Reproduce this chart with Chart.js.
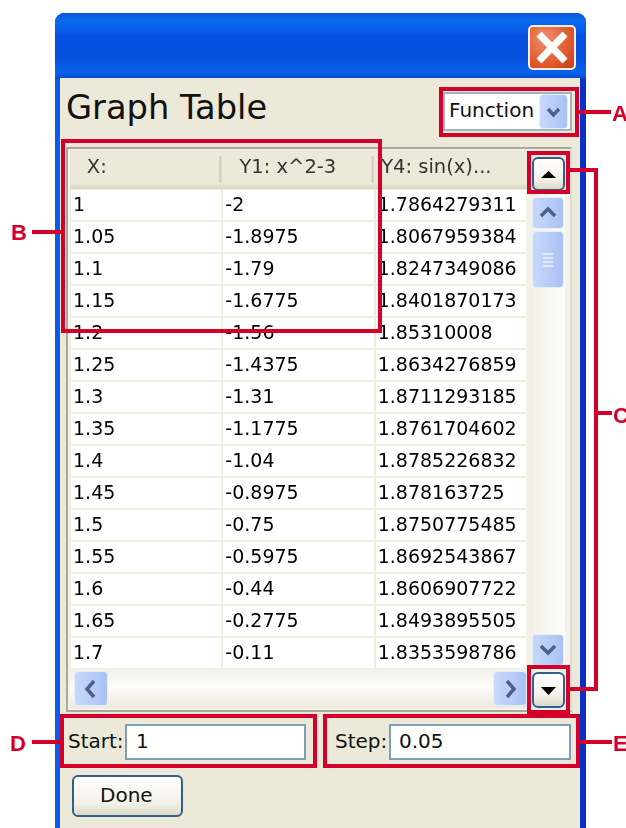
<!DOCTYPE html>
<html>
<head>
<meta charset="utf-8">
<title>Graph Table</title>
<script src="https://cdn.jsdelivr.net/npm/chart.js@4"></script>
<style>
html,body{margin:0;padding:0;background:#fff;width:626px;height:828px;overflow:hidden;font-family:"DejaVu Sans",sans-serif;color:#111}
#page{position:absolute;left:0;top:0;width:626px;height:828px;filter:blur(.6px)}
#page div,#page svg{position:absolute;box-sizing:border-box}
.txt{white-space:nowrap;line-height:1}
.red{background:#d4002a}
.box{border:4px solid #d4002a}
.letter{font:bold 22px "Liberation Sans",sans-serif;color:#d4002a}
.sb{border-radius:4px;background:linear-gradient(90deg,#c9d8fb,#b6cbf8 60%,#a9c0f2);border:1px solid #e6eefc}
.btn{border:2px solid #2f5f8f;border-radius:6px;background:linear-gradient(#fff,#f3f1e6 70%,#dcd8c8)}
.input{background:#fff;border:2px solid #7f9db9}
canvas{position:absolute;left:70px;top:150px}
</style>
</head>
<body>
<div id="page">
  <!-- window frame -->
  <div style="left:55px;top:13px;width:531px;height:815px;border-radius:9px 9px 0 0;background:linear-gradient(90deg,#0a5cf0 0,#0a5cf0 50%,#0831c4 100%)"></div>
  <div style="left:55px;top:13px;width:531px;height:66px;border-radius:9px 9px 0 0;background:linear-gradient(#0a58dc 0,#0a6af0 12%,#0550e0 35%,#0450dc 70%,#0a62ea 90%,#0548c8 100%)"></div>
  <div style="left:60px;top:78px;width:520px;height:750px;background:#ece9d8"></div>
  <!-- close button -->
  <div style="left:528px;top:25px;width:48px;height:45px;border:2px solid #f4eee8;border-radius:5px;background:radial-gradient(circle at 35% 30%,#ee9070,#e05a2c 60%,#c43c14)"></div>
  <svg style="left:528px;top:25px" width="48" height="45"><path d="M11 9L37 36M37 9L11 36" stroke="#fff" stroke-width="7"/></svg>

  <div class="txt" id="title" style="left:66px;top:91px;font-size:33.700px">Graph Table</div>

  <!-- function combo -->
  <div style="left:443px;top:92px;width:129px;height:39px;background:#fff;border:2px solid #9fb3c4"></div>
  <div class="txt" style="left:449px;top:100px;font-size:20px">Function</div>
  <div class="sb" style="left:539px;top:94px;width:29px;height:35px"></div>
  <svg style="left:539px;top:94px" width="29" height="35"><path d="M9 15l5.500 6 5.500-6" fill="none" stroke="#4d6185" stroke-width="3.500"/></svg>

  <!-- table frame -->
  <div style="left:66px;top:147px;width:506px;height:565px;border:2px solid #aca899;border-right-color:#ddd;border-bottom-color:#aca899;background:#ece9d8"></div>
  <div style="left:68px;top:149px;width:502px;height:561px;background:#f4f3ea"></div>

  <!-- vertical scrollbar -->
  <div style="left:527px;top:150px;width:43px;height:40px;background:#ece9d8"></div>
  <div style="left:529px;top:190px;width:36px;height:478px;background:linear-gradient(90deg,#f2f1e8,#fdfdfb)"></div>
  <div class="sb" style="left:532px;top:197px;width:32px;height:32px"></div>
  <svg style="left:532px;top:197px" width="32" height="32"><path d="M9 19l7-7 7 7" fill="none" stroke="#4d6185" stroke-width="3.500"/></svg>
  <div class="sb" style="left:532px;top:231px;width:32px;height:57px"></div>
  <svg style="left:532px;top:231px" width="32" height="57"><path d="M11 23h10M11 27h10M11 31h10M11 35h10" stroke="#eef3fd" stroke-width="1.500"/></svg>
  <div class="sb" style="left:532px;top:634px;width:32px;height:32px"></div>
  <svg style="left:532px;top:634px" width="32" height="32"><path d="M9 12l7 7 7-7" fill="none" stroke="#4d6185" stroke-width="3.500"/></svg>

  <!-- horizontal scrollbar -->
  <div style="left:70px;top:670px;width:458px;height:38px;background:linear-gradient(#f2f1e8,#fdfdfb 45%,#ece9dd)"></div>
  <div class="sb" style="left:74px;top:671px;width:34px;height:35px"></div>
  <svg style="left:74px;top:671px" width="34" height="35"><path d="M20 10l-7 8 7 8" fill="none" stroke="#4d6185" stroke-width="3.500"/></svg>
  <div class="sb" style="left:493px;top:671px;width:34px;height:35px"></div>
  <svg style="left:493px;top:671px" width="34" height="35"><path d="M14 10l7 8-7 8" fill="none" stroke="#4d6185" stroke-width="3.500"/></svg>

  <!-- small up / down buttons -->
  <div class="btn" style="left:532px;top:157px;width:33px;height:34px"></div>
  <svg style="left:532px;top:157px" width="33" height="34"><path d="M9 21h15l-7.500-7z" fill="#000"/></svg>
  <div class="btn" style="left:532px;top:672px;width:33px;height:36px"></div>
  <svg style="left:532px;top:672px" width="33" height="36"><path d="M9 15h15l-7.500 8z" fill="#000"/></svg>

  <!-- start / step -->
  <div class="txt" style="left:68px;top:731px;font-size:20px">Start:</div>
  <div class="input" style="left:125px;top:724px;width:181px;height:36px"></div>
  <div class="txt" style="left:136px;top:731px;font-size:20px">1</div>
  <div class="txt" style="left:335px;top:731px;font-size:20px">Step:</div>
  <div class="input" style="left:389px;top:724px;width:182px;height:36px"></div>
  <div class="txt" style="left:399px;top:731px;font-size:20px">0.05</div>

  <!-- done -->
  <div class="btn" style="left:72px;top:775px;width:111px;height:42px"></div>
  <div class="txt" style="left:100px;top:785px;font-size:20px">Done</div>

  <canvas id="graphTable" width="457" height="519"></canvas>

  <!-- red callouts -->
  <div class="box" style="left:439px;top:87px;width:140px;height:50px"></div>
  <div class="box" style="left:61px;top:139px;width:321px;height:194px"></div>
  <div class="box" style="left:527px;top:151px;width:43px;height:43px"></div>
  <div class="box" style="left:527px;top:665px;width:43px;height:49px"></div>
  <div class="box" style="left:60px;top:714px;width:257px;height:54px"></div>
  <div class="box" style="left:323px;top:714px;width:257px;height:54px"></div>
  <div class="red" style="left:579px;top:110px;width:32px;height:4px"></div>
  <div class="red" style="left:32px;top:230px;width:30px;height:4px"></div>
  <div class="red" style="left:569px;top:168px;width:28px;height:4px"></div>
  <div class="red" style="left:594px;top:168px;width:4px;height:523px"></div>
  <div class="red" style="left:569px;top:687px;width:28px;height:4px"></div>
  <div class="red" style="left:597px;top:411px;width:15px;height:4px"></div>
  <div class="red" style="left:32px;top:740px;width:29px;height:4px"></div>
  <div class="red" style="left:580px;top:740px;width:32px;height:4px"></div>
  <div class="txt letter" style="left:612px;top:101px">A</div>
  <div class="txt letter" style="left:11px;top:220px">B</div>
  <div class="txt letter" style="left:613px;top:403px">C</div>
  <div class="txt letter" style="left:10px;top:731px">D</div>
  <div class="txt letter" style="left:613px;top:731px">E</div>
</div>
<script>
// table values, as shown in the dialog
var columnHeaders = ["X:", "Y1: x^2-3", "Y4: sin(x)..."];
var xValues = ["1","1.05","1.1","1.15","1.2","1.25","1.3","1.35","1.4","1.45","1.5","1.55","1.6","1.65","1.7"];
var y1Values = ["-2","-1.8975","-1.79","-1.6775","-1.56","-1.4375","-1.31","-1.1775","-1.04","-0.8975","-0.75","-0.5975","-0.44","-0.2775","-0.11"];
var y4Values = ["1.7864279311","1.8067959384","1.8247349086","1.8401870173","1.85310008","1.8634276859","1.8711293185","1.8761704602","1.8785226832","1.878163725","1.8750775485","1.8692543867","1.8606907722","1.8493895505","1.8353598786"];

var columns = [xValues, y1Values, y4Values];

// each cell is a point: x = column number, y = row number
var datasets = columns.map(function(col, c){
  return {
    label: columnHeaders[c],
    pointRadius: 0,
    data: col.map(function(v, r){ return {x: c, y: r + 0.5, text: v}; })
  };
});

var headerOffset = [0.176, 0.43, 0.405];

var cellText = {
  id: 'cellText',
  beforeDatasetsDraw: function(chart){ //ヘッダーの背景
    var g = chart.ctx, xs = chart.scales.x, ys = chart.scales.y;
    var top = ys.getPixelForValue(ys.min), bottom = ys.getPixelForValue(0);
    var left = xs.getPixelForValue(0), right = xs.getPixelForValue(3);
    var grad = g.createLinearGradient(0, top, 0, bottom);
    grad.addColorStop(0, '#ece9d8');
    grad.addColorStop(0.85, '#ece9d8');
    grad.addColorStop(1, '#d9d5c2');
    g.fillStyle = grad;
    g.fillRect(left, top, right - left, bottom - top);
    g.fillStyle = '#d0cdbb';
    [1, 2].forEach(function(c){
      g.fillRect(xs.getPixelForValue(c) - 3, top + 6, 2, bottom - top - 12);
    });
  },
  afterDatasetsDraw: function(chart){
    var g = chart.ctx, xs = chart.scales.x, ys = chart.scales.y;
    g.save();
    g.textBaseline = 'middle';
    g.font = '19px "DejaVu Sans"';
    g.fillStyle = '#000';
    g.textAlign = 'left';
    chart.data.datasets.forEach(function(ds, c){
      chart.getDatasetMeta(c).data.forEach(function(pt, r){
        g.fillText(ds.data[r].text, pt.x + 3, pt.y + 1);
      });
    });
    g.font = '19.5px "DejaVu Sans"';
    g.fillStyle = '#333';
    g.textAlign = 'center';
    columnHeaders.forEach(function(h, c){
      g.fillText(h, xs.getPixelForValue(c + headerOffset[c]), ys.getPixelForValue(-0.66));
    });
    g.restore();
  }
};

new Chart(document.getElementById('graphTable'), {
  type: 'scatter',
  data: { datasets: datasets },
  options: {
    responsive: false,
    animation: false,
    devicePixelRatio: 1,
    layout: { padding: 0 },
    plugins: { legend: { display: false }, tooltip: { enabled: false } },
    scales: {
      x: {
        type: 'linear', min: 0, max: 3,
        ticks: { display: false, stepSize: 1 },
        border: { display: false },
        grid: { color: '#f1eee0', lineWidth: 2, drawTicks: false }
      },
      y: {
        type: 'linear', min: -1.22, max: 15, reverse: true,
        ticks: { display: false, stepSize: 1 },
        border: { display: false },
        grid: { color: '#f1eee0', lineWidth: 2, drawTicks: false }
      }
    }
  },
  plugins: [{
    id: 'tableBack',
    beforeDraw: function(chart){
      var a = chart.chartArea;
      chart.ctx.fillStyle = '#fff';
      chart.ctx.fillRect(a.left, a.top, a.right - a.left, a.bottom - a.top);
    }
  }, cellText]
});
</script>
</body>
</html>
